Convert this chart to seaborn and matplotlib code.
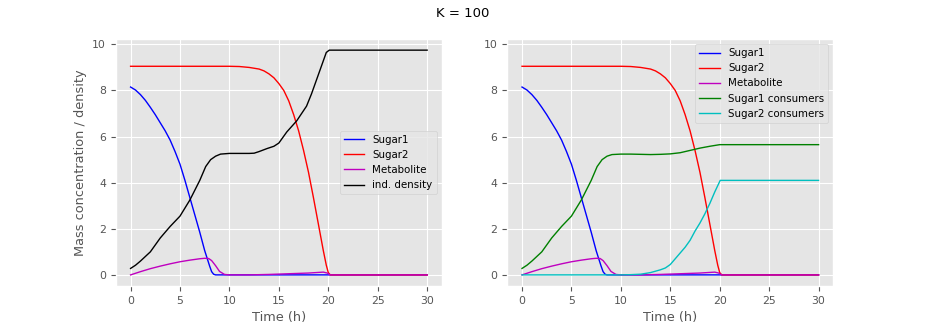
import matplotlib
matplotlib.use("Agg")
import matplotlib.pyplot as plt
import seaborn as sns
import pandas as pd

# ---- data ----
t_sugar1 = [0, 0.5, 1, 1.5, 2, 2.5, 3, 3.5, 4, 4.5, 5, 5.5, 6, 6.5, 7, 7.5, 8, 8.2, 8.4, 8.6, 10, 20, 30]
sugar1 = [8.15, 8.02, 7.82, 7.57, 7.27, 6.95, 6.6, 6.25, 5.85, 5.35, 4.8, 4.1, 3.35, 2.6, 1.85, 1.05, 0.38, 0.14, 0.03, 0.0, 0.0, 0.0, 0.0]

t_sugar2 = [0, 5, 10, 11, 12, 13, 13.5, 14, 14.5, 15, 15.5, 16, 16.5, 17, 17.5, 18, 18.5, 19, 19.5, 19.8, 20.0, 20.2, 25, 30]
sugar2 = [9.05, 9.05, 9.05, 9.04, 9.0, 8.93, 8.85, 8.72, 8.55, 8.3, 8.0, 7.55, 6.95, 6.25, 5.4, 4.45, 3.35, 2.2, 1.05, 0.42, 0.1, 0.0, 0.0, 0.0]

t_metab = [0, 1, 2, 3, 4, 5, 6, 7, 7.5, 7.9, 8.2, 8.6, 9.0, 9.5, 10, 12, 14, 16, 18, 19.5, 19.9, 20.2, 25, 30]
metab = [0.0, 0.14, 0.27, 0.38, 0.48, 0.57, 0.64, 0.70, 0.72, 0.71, 0.62, 0.40, 0.15, 0.02, 0.0, 0.0, 0.02, 0.05, 0.08, 0.12, 0.08, 0.0, 0.0, 0.0]

t_density = [0, 0.5, 1, 2, 3, 4, 5, 6, 7, 7.6, 8.1, 8.6, 9.1, 10, 11, 12, 12.5, 13, 13.8, 14.5, 15, 15.8, 16.8, 17.8, 18.3, 18.8, 19.3, 19.8, 20.1, 25, 30]
density = [0.28, 0.42, 0.6, 1.0, 1.6, 2.1, 2.55, 3.25, 4.1, 4.7, 5.0, 5.15, 5.24, 5.27, 5.27, 5.27, 5.28, 5.35, 5.48, 5.58, 5.72, 6.2, 6.68, 7.32, 7.85, 8.45, 9.05, 9.65, 9.75, 9.75, 9.75]

t_cons1 = [0, 0.5, 1, 2, 3, 4, 5, 6, 7, 7.6, 8.1, 8.6, 9.1, 10, 11, 12, 13, 14, 15, 16, 17, 17.5, 18, 19, 20, 25, 30]
cons1 = [0.28, 0.42, 0.6, 1.0, 1.6, 2.1, 2.55, 3.25, 4.1, 4.7, 5.0, 5.15, 5.22, 5.24, 5.24, 5.23, 5.22, 5.23, 5.25, 5.3, 5.4, 5.45, 5.5, 5.58, 5.65, 5.65, 5.65]

t_cons2 = [0, 5, 10, 11, 12, 13, 14, 14.5, 15, 15.5, 16, 16.5, 17, 17.5, 18, 18.5, 19, 19.5, 20.05, 25, 30]
cons2 = [0.0, 0.0, 0.0, 0.01, 0.03, 0.1, 0.22, 0.3, 0.45, 0.7, 0.95, 1.2, 1.5, 1.9, 2.25, 2.65, 3.1, 3.6, 4.1, 4.1, 4.1]

plt.style.use("ggplot")
fig, axes = plt.subplots(1, 2, figsize=(9.26, 3.27), dpi=100)
fig.subplots_adjust(left=0.125, right=0.9, top=0.881, bottom=0.125, wspace=0.2)

lw = 1.0
def draw(ax, t, y, color, label):
    df = pd.DataFrame({"t": t, "y": y})
    sns.lineplot(data=df, x="t", y="y", color=color, label=label, ax=ax,
                 linewidth=lw, estimator=None, sort=False)

ax = axes[0]
draw(ax, t_sugar1, sugar1, "b", "Sugar1")
draw(ax, t_sugar2, sugar2, "r", "Sugar2")
draw(ax, t_metab, metab, "m", "Metabolite")
draw(ax, t_density, density, "k", "ind. density")
ax.set_ylabel("Mass concentration / density", fontsize=9.3)
ax.legend(loc="center right", fontsize=7.4)

ax = axes[1]
draw(ax, t_sugar1, sugar1, "b", "Sugar1")
draw(ax, t_sugar2, sugar2, "r", "Sugar2")
draw(ax, t_metab, metab, "m", "Metabolite")
draw(ax, t_cons1, cons1, "g", "Sugar1 consumers")
draw(ax, t_cons2, cons2, "c", "Sugar2 consumers")
ax.set_ylabel("")
ax.legend(loc="upper right", fontsize=7.4)

for ax in axes:
    ax.set_xlabel("Time (h)", fontsize=9.3)
    ax.set_xticks([0, 5, 10, 15, 20, 25, 30])
    ax.set_yticks([0, 2, 4, 6, 8, 10])
    ax.tick_params(labelsize=7.8)
    ax.set_xlim(-1.5, 31.5)
    ax.set_ylim(-0.4875, 10.2375)

fig.suptitle("K = 100", fontsize=9.5, y=0.98)
fig.savefig("out.png", dpi=100)
